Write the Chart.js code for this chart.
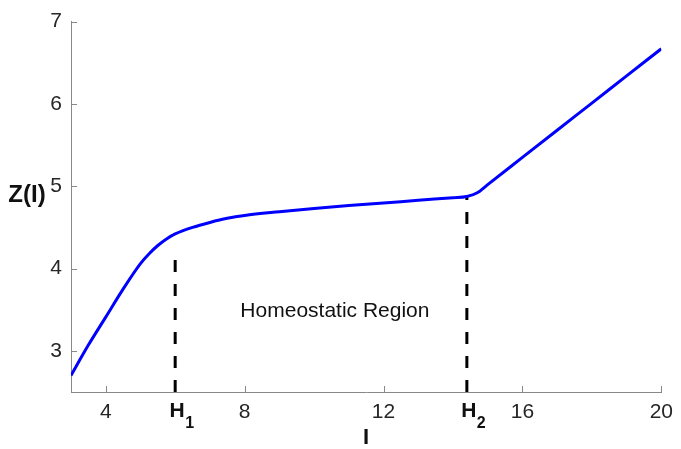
<!DOCTYPE html>
<html>
<head>
<meta charset="utf-8">
<script src="https://cdn.jsdelivr.net/npm/chart.js@4/dist/chart.umd.min.js"></script>
<style>
  html, body { margin: 0; padding: 0; background: #fff; }
  #wrap { width: 681px; height: 449px; position: relative; }
</style>
</head>
<body>
<div id="wrap"><canvas id="zChart"></canvas></div>
<script>
// Curve Z(I)
const iValues = [3, 3.5, 4, 4.5, 5, 5.25, 5.5, 5.75, 6, 6.5, 7, 7.5, 8, 9, 10, 11, 12, 13, 14, 14.4, 14.7, 15, 16, 17, 18, 19, 20];
const zValues = [2.70, 3.07, 3.41, 3.75, 4.06, 4.18, 4.28, 4.36, 4.42, 4.50, 4.56, 4.61, 4.645, 4.69, 4.73, 4.765, 4.795, 4.83, 4.86, 4.875, 4.92, 5.02, 5.35, 5.68, 6.01, 6.34, 6.67];

// Marked thresholds and the dashed lines up to the curve
const hNames = ['1', '2'];
const hValues = [6, 14.4];
const hTops = [4.25, 4.87];

// Axes
const xTicks = [4, 8, 12, 16, 20];
const yTicks = [3, 4, 5, 6, 7];
const xRange = [3, 20];
const yRange = [2.5, 7];

const FONT = '"Liberation Sans", Arial, sans-serif';

const dashedSets = hValues.map((h, i) => ({
    data: [{ x: h, y: yRange[0] }, { x: h, y: hTops[i] }],
    borderColor: '#000',
    borderWidth: 3,
    borderDash: [12, 12],
    pointRadius: 0,
    tension: 0,
    fill: false
}));

// Inward tick marks, H labels and axis titles (MATLAB look)
const decorations = {
    id: 'decorations',
    afterDraw(chart) {
        const ctx = chart.ctx;
        const x = chart.scales.x;
        const y = chart.scales.y;
        const area = chart.chartArea;

        ctx.save();
        ctx.strokeStyle = '#888';
        ctx.lineWidth = 1;
        ctx.beginPath();
        xTicks.forEach(v => {
            const px = Math.round(x.getPixelForValue(v)) + 0.5;
            ctx.moveTo(px, area.bottom);
            ctx.lineTo(px, area.bottom - 6);
        });
        yTicks.forEach(v => {
            const py = Math.round(y.getPixelForValue(v)) + 0.5;
            ctx.moveTo(area.left, py);
            ctx.lineTo(area.left + 6, py);
        });
        ctx.stroke();

        ctx.fillStyle = '#111';
        ctx.textBaseline = 'middle';

        // H1, H2 under the dashed lines
        hValues.forEach((h, i) => {
            const px = x.getPixelForValue(h);
            ctx.font = 'bold 21px ' + FONT;
            ctx.textAlign = 'center';
            ctx.fillText('H', px + 2, area.bottom + 19);
            ctx.font = 'bold 16px ' + FONT;
            ctx.textAlign = 'left';
            ctx.fillText(hNames[i], px + 10, area.bottom + 32);
        });

        // axis titles
        ctx.font = 'bold 24px ' + FONT;
        ctx.textAlign = 'center';
        ctx.fillText('Z(I)', 27, 195);
        ctx.font = 'bold 22px ' + FONT;
        ctx.fillText('I', (area.left + area.right) / 2, area.bottom + 46);

        // region label
        ctx.font = '21px ' + FONT;
        ctx.fillText('Homeostatic Region', x.getPixelForValue(10.6), y.getPixelForValue(3.48));
        ctx.restore();
    }
};

document.addEventListener('DOMContentLoaded', function() {
    const ctx = document.getElementById('zChart').getContext('2d');
    new Chart(ctx, {
        type: 'line',
        data: {
            datasets: [
                {
                    data: iValues.map((v, i) => ({ x: v, y: zValues[i] })),
                    borderColor: '#0000ff',
                    borderWidth: 3,
                    pointRadius: 0,
                    cubicInterpolationMode: 'monotone',
                    fill: false
                },
                ...dashedSets
            ]
        },
        options: {
            responsive: true,
            maintainAspectRatio: false,
            animation: false,
            layout: { padding: { top: 17, right: 15, left: 0, bottom: 0 } },
            plugins: {
                legend: { display: false },
                tooltip: { enabled: false }
            },
            scales: {
                x: {
                    type: 'linear',
                    min: xRange[0],
                    max: xRange[1],
                    afterBuildTicks: s => { s.ticks = xTicks.map(v => ({ value: v })); },
                    afterFit: s => { s.height = 57; },
                    grid: { drawOnChartArea: false, drawTicks: false },
                    border: { color: '#888', width: 1 },
                    ticks: {
                        padding: 8,
                        maxRotation: 0,
                        color: '#262626',
                        font: { family: FONT, size: 21 }
                    }
                },
                y: {
                    min: yRange[0],
                    max: yRange[1],
                    afterBuildTicks: s => { s.ticks = yTicks.map(v => ({ value: v })); },
                    afterFit: s => { s.width = 71; },
                    grid: { drawOnChartArea: false, drawTicks: false },
                    border: { color: '#888', width: 1 },
                    ticks: {
                        padding: 9,
                        color: '#262626',
                        font: { family: FONT, size: 21 }
                    }
                }
            }
        },
        plugins: [decorations]
    });
});
</script>
</body>
</html>
